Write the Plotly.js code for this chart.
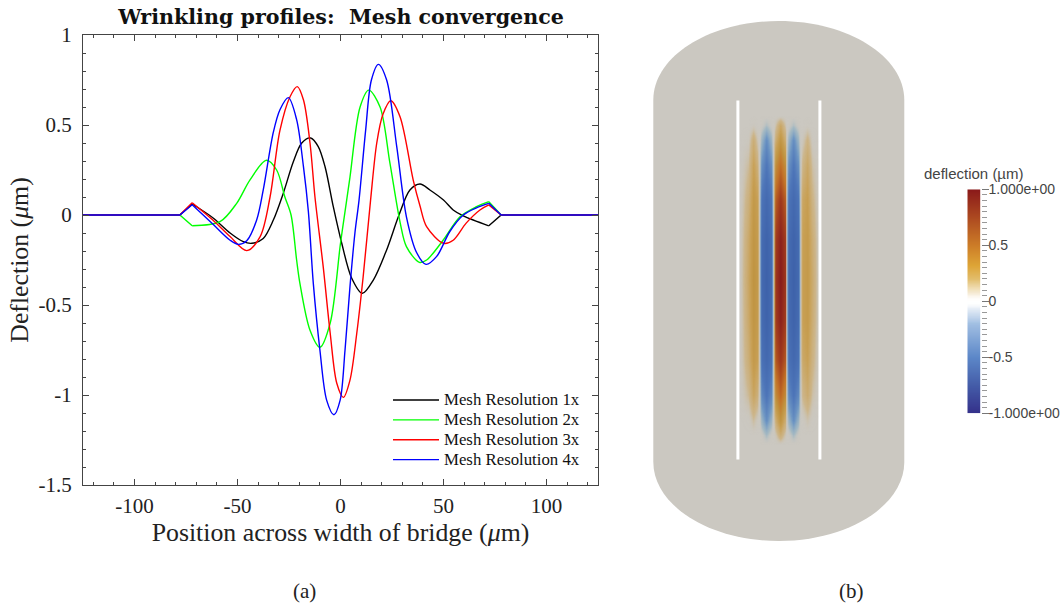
<!DOCTYPE html>
<html>
<head>
<meta charset="utf-8">
<script src="https://cdn.plot.ly/plotly-3.0.1.min.js"></script>
<style>html,body{margin:0;padding:0;background:#fff}#g{width:1062px;height:607px}</style>
</head>
<body>
<div id="g"></div>
<script>
// Panel (a): profiles
const x1 = [-125,-100,-85,-78,-72,-62,-53.6,-47.2,-43,-37.5,-32.6,-27.8,-22.9,-18.8,-14.5,-10.8,-7.5,-3.5,0.6,5.4,10.6,16,22.4,28.4,33.7,38.6,43.4,50,54.7,59.6,72,78,90,105,125];
const y1 = [0,0,0,0,0.061,-0.015,-0.10,-0.148,-0.157,-0.13,-0.028,0.12,0.296,0.40,0.428,0.38,0.268,0.046,-0.157,-0.35,-0.435,-0.36,-0.194,0,0.139,0.172,0.139,0.083,0.028,-0.005,-0.06,0,0,0,0];
const x2 = [-125,-100,-85,-78,-72,-58.5,-50.4,-44,-36,-31,-27,-24,-21.3,-19.7,-14.8,-10,-5,0,3,4.6,9.5,13.7,19.2,24,29,32,38.3,41.8,49.8,58,66,72,78,90,105,125];
const y2 = [0,0,0,0,-0.06,-0.037,0.065,0.194,0.304,0.25,0.10,0,-0.25,-0.38,-0.64,-0.735,-0.6,-0.157,0.083,0.21,0.60,0.694,0.60,0.288,-0.045,-0.176,-0.263,-0.25,-0.14,-0.01,0.046,0.074,0,0,0,0];
const x3 = [-125,-100,-85,-78,-72,-62,-53.6,-45.5,-39,-34.2,-29.4,-24.5,-21,-18,-14.8,-12.4,-8.4,-5,-1.8,1.4,4.6,7.9,11,14.6,17.6,20.6,24.4,28.9,35.3,38.6,41.8,50,54.7,61,67.7,72,78,90,105,125];
const y3 = [0,0,0,0,0.068,-0.028,-0.12,-0.198,-0.12,0.10,0.47,0.657,0.713,0.64,0.40,0.10,-0.287,-0.657,-0.935,-1.013,-0.917,-0.657,-0.343,0.083,0.40,0.56,0.635,0.546,0.194,0.05,-0.065,-0.157,-0.14,-0.045,0.028,0.056,0,0,0,0];
const x4 = [-125,-100,-85,-78,-72,-62,-53.6,-49.6,-45.5,-40.7,-37.5,-32.6,-29.4,-25.3,-21.3,-18,-15.6,-13.2,-10,-6.7,-3.2,-0.2,2.2,4.6,7,9,12.2,15,18.4,22.4,27.3,32,37,41.5,46.7,53,59.6,66,72,78,90,105,125];
const y4 = [0,0,0,0,0.057,-0.05,-0.14,-0.163,-0.143,-0.028,0.139,0.46,0.585,0.652,0.53,0.27,0.02,-0.38,-0.75,-1.03,-1.11,-1.03,-0.75,-0.398,-0.10,0.083,0.47,0.75,0.837,0.75,0.38,-0.01,-0.21,-0.274,-0.23,-0.093,0,0.04,0.065,0,0,0,0];
const seriesNames = ['Mesh Resolution 1x','Mesh Resolution 2x','Mesh Resolution 3x','Mesh Resolution 4x'];
const seriesColors = ['#000000','#00ff00','#ff0000','#0000ff'];
const xTickVals = [-100,-50,0,50,100];
const xTickText = ['-100','-50','0','50','100'];
const yTickVals = [1,0.5,0,-0.5,-1,-1.5];
const yTickText = ['1','0.5','0','-0.5','-1','-1.5'];

// Panel (b): deflection field
const fieldX = [-40,-31.5,-26.5,-22,-20.5,-18.5,-13.5,-8.5,-6.5,-4.5,0.5,5.5,7,8.5,13.5,18.5,20.5,22.5,27.5,32.5,40];
const fieldY = [115,125,140,165,200,240,280,320,360,395,420,435,445];
const fieldZ = [
 [0,0,0,0,0,0,0,0,0,0,0,0,0,0,0,0,0,0,0,0,0],
 [0,0,.03,0,0,-.02,-.1,-.02,0,.07,.25,.07,0,-.02,-.1,-.02,0,0,.02,0,0],
 [0,.03,.2,.06,0,-.15,-.35,-.15,0,.2,.4,.2,0,-.15,-.35,-.15,0,.04,.15,.02,0],
 [0,.1,.3,.18,0,-.33,-.5,-.33,0,.44,.62,.44,0,-.33,-.5,-.33,0,.14,.25,.08,0],
 [0,.18,.37,.3,0,-.52,-.65,-.52,0,.68,.85,.68,0,-.52,-.65,-.52,0,.26,.32,.14,0],
 [0,.24,.4,.34,0,-.62,-.73,-.62,0,.82,.97,.82,0,-.62,-.73,-.62,0,.3,.35,.2,0],
 [0,.26,.42,.36,0,-.64,-.75,-.64,0,.85,1,.85,0,-.64,-.75,-.64,0,.31,.36,.22,0],
 [0,.24,.4,.34,0,-.62,-.73,-.62,0,.82,.97,.82,0,-.62,-.73,-.62,0,.3,.35,.2,0],
 [0,.2,.36,.3,0,-.55,-.66,-.55,0,.7,.85,.7,0,-.55,-.66,-.55,0,.24,.3,.15,0],
 [0,.11,.27,.18,0,-.38,-.52,-.38,0,.46,.65,.46,0,-.38,-.52,-.38,0,.13,.22,.08,0],
 [0,.01,.1,.03,0,-.16,-.35,-.16,0,.2,.42,.2,0,-.16,-.35,-.16,0,.01,.07,.01,0],
 [0,0,0,0,0,-.02,-.12,-.02,0,.05,.2,.05,0,-.02,-.12,-.02,0,0,0,0,0],
 [0,0,0,0,0,0,0,0,0,0,0,0,0,0,0,0,0,0,0,0,0]
];
const scaleLevels = [-1,-0.75,-0.5,-0.25,-0.1,-0.05,0,0.05,0.1,0.25,0.5,0.75,1];
const scaleX = [0,1];
const scaleTickVals = [1,0.5,0,-0.5,-1];
const scaleTickText = ['1.000e+00','0.5','0','-0.5','-1.000e+00'];
const barColors = [
 [0,'rgb(52,48,138)'],[0.125,'rgb(68,92,168)'],[0.25,'rgb(92,135,200)'],[0.4,'rgb(160,190,226)'],
 [0.47,'rgba(222,232,244,0.8)'],[0.5,'rgba(255,255,255,0)'],[0.53,'rgba(246,236,216,0.8)'],
 [0.6,'rgb(226,190,110)'],[0.66,'rgb(222,165,55)'],[0.75,'rgb(205,125,40)'],[0.88,'rgb(172,72,32)'],[1,'rgb(139,26,26)']
];
const fieldColors = [
 [0,'rgb(52,48,138)'],[0.125,'rgb(62,98,170)'],[0.25,'rgb(78,118,185)'],[0.35,'rgb(110,150,195)'],
 [0.44,'rgba(140,175,195,0.6)'],[0.5,'rgba(203,200,193,0)'],[0.56,'rgba(205,170,105,0.6)'],
 [0.65,'rgb(200,160,85)'],[0.71,'rgb(192,148,65)'],[0.8,'rgb(195,115,40)'],[0.9,'rgb(165,65,30)'],[1,'rgb(135,28,28)']
];

const serif = '"Liberation Serif", serif';
const sans = '"Liberation Sans", sans-serif';
const W = 1062, H = 607;
const px = v => v / W, py = v => 1 - v / H;

// The hinged ends of each profile stay straight; the part between the hinges is smooth.
const hinge = 72;
const partIdx = (x, test) => x.map((v, k) => test(v) ? k : -1).filter(k => k >= 0);
const pick = (arr, idx) => idx.map(k => arr[k]);
const lineTraces = (x, y, i) => {
  const mid = partIdx(x, v => Math.abs(v) <= hinge);
  const left = partIdx(x, v => v <= -hinge);
  const right = partIdx(x, v => v >= hinge);
  const base = {type:'scatter', mode:'lines', xaxis:'x', yaxis:'y', legendgroup:'s' + i};
  return [
    Object.assign({}, base, {x:pick(x,mid), y:pick(y,mid),
      name:'<span style="font-size:16.8px">' + seriesNames[i] + '</span>',
      line:{color:seriesColors[i], width:1.4, shape:'spline', smoothing:0.9}}),
    Object.assign({}, base, {x:pick(x,left), y:pick(y,left), showlegend:false, line:{color:seriesColors[i], width:1.4}}),
    Object.assign({}, base, {x:pick(x,right), y:pick(y,right), showlegend:false, line:{color:seriesColors[i], width:1.4}})
  ];
};

const data = [
  ...lineTraces(x1,y1,0), ...lineTraces(x2,y2,1), ...lineTraces(x3,y3,2), ...lineTraces(x4,y4,3),
  {type:'heatmap', x:fieldX, y:fieldY, z:fieldZ, xaxis:'x2', yaxis:'y2', zmin:-1, zmax:1,
   zsmooth:'best', colorscale:fieldColors, showscale:false, showlegend:false, hoverinfo:'skip'},
  {type:'heatmap', x:scaleX, y:scaleLevels, z:scaleLevels.map(v => [v,v]), xaxis:'x3', yaxis:'y3', zmin:-1, zmax:1,
   zsmooth:'best', colorscale:barColors, showscale:false, showlegend:false, hoverinfo:'skip'}
];

const layout = {
  width:W, height:H, margin:{l:0,r:0,t:0,b:0}, paper_bgcolor:'#fff', plot_bgcolor:'rgba(0,0,0,0)',
  title:{text:'<b>Wrinkling profiles:  Mesh convergence</b>', x:341/W, xanchor:'center', y:1-17/H, yanchor:'middle',
         font:{family:'"DejaVu Serif", serif', size:20.6, color:'#111'}},
  showlegend:true,
  legend:{x:px(388), y:py(385), xanchor:'left', yanchor:'top', bgcolor:'rgba(0,0,0,0)', borderwidth:0,
          itemwidth:46, font:{family:serif, size:13, color:'#111'}, tracegroupgap:0},
  xaxis:{domain:[px(83),px(598)], range:[-125,125], anchor:'y', mirror:'ticks', showline:true, linecolor:'#444', linewidth:1,
         ticks:'inside', ticklen:6, tickcolor:'#444', tickmode:'array', tickvals:xTickVals, ticktext:xTickText,
         tickfont:{family:serif, size:21, color:'#222'}, ticklabelstandoff:2, showgrid:false, zeroline:false,
         minor:{dtick:10, ticks:'inside', ticklen:3, tickcolor:'#444', showgrid:false},
         title:{text:'Position across width of bridge (<i>μ</i>m)', standoff:2, font:{family:serif, size:25.8, color:'#222'}}},
  yaxis:{domain:[py(485),py(35)], range:[-1.5,1], anchor:'x', mirror:'ticks', showline:true, linecolor:'#444', linewidth:1,
         ticks:'inside', ticklen:6, tickcolor:'#444', tickmode:'array', tickvals:yTickVals, ticktext:yTickText,
         tickfont:{family:serif, size:21, color:'#222'}, ticklabelstandoff:6, showgrid:false, zeroline:false,
         minor:{dtick:0.1, ticks:'inside', ticklen:3, tickcolor:'#444', showgrid:false},
         title:{text:'Deflection (<i>μ</i>m)', standoff:2, font:{family:serif, size:25.8, color:'#222'}}},
  xaxis2:{domain:[px(640),px(920)], range:[640-779.5,920-779.5], anchor:'y2', visible:false, fixedrange:true},
  yaxis2:{domain:[py(550),py(15)], range:[550,15], anchor:'x2', visible:false, fixedrange:true},
  xaxis3:{domain:[px(967.3),px(980.7)], range:[0,1], anchor:'y3', visible:false, fixedrange:true},
  yaxis3:{domain:[py(413.3),py(189.3)], range:[-1,1], anchor:'x3', side:'right', showline:false, showgrid:false, zeroline:false,
          ticks:'outside', ticklen:7, tickcolor:'#777', tickmode:'array', tickvals:scaleTickVals, ticktext:scaleTickText,
          tickfont:{family:sans, size:14, color:'#444'}, ticklabelstandoff:-3,
          minor:{dtick:0.05, ticks:'outside', ticklen:5, tickcolor:'#999', showgrid:false}},
  shapes:[
    {type:'path', layer:'below', xref:'x2', yref:'y2', line:{width:0}, fillcolor:'#cbc8c1',
     path:'M -126.2 100 C -126.2 56.4 -70 21 -0.7 21 C 68.6 21 124.8 56.4 124.8 100 L 124.8 462 C 124.8 505.6 68.6 541 -0.7 541 C -70 541 -126.2 505.6 -126.2 462 Z'},
    {type:'line', layer:'below', xref:'x2', yref:'y2', x0:-41.6, x1:-41.6, y0:100.5, y1:459.5, line:{color:'#fff', width:3}},
    {type:'line', layer:'below', xref:'x2', yref:'y2', x0:40.4, x1:40.4, y0:100.5, y1:459.5, line:{color:'#fff', width:3}}
  ],
  annotations:[
    {text:'(a)', xref:'paper', yref:'paper', x:px(304), y:py(591), showarrow:false, xanchor:'center', yanchor:'middle', font:{family:serif, size:21, color:'#222'}},
    {text:'(b)', xref:'paper', yref:'paper', x:px(851), y:py(591), showarrow:false, xanchor:'center', yanchor:'middle', font:{family:serif, size:21, color:'#222'}},
    {text:'deflection (µm)', xref:'paper', yref:'paper', x:px(974), y:py(173), showarrow:false, xanchor:'center', yanchor:'middle', font:{family:sans, size:15, color:'#444'}}
  ]
};
Plotly.newPlot('g', data, layout, {displayModeBar:false, staticPlot:true});
</script>
</body>
</html>
